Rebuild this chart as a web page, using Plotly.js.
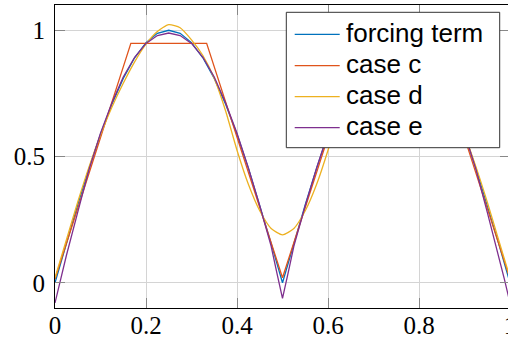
<!DOCTYPE html>
<html>
<head>
<meta charset="utf-8">
<script src="https://cdn.plot.ly/plotly-3.0.1.min.js"></script>
<style>
html,body{margin:0;padding:0;overflow:hidden;background:#fff;}
#chart{width:511px;height:342px;}
</style>
</head>
<body>
<div id="chart"></div>
<script>
// ---- data ----
var seriesNames = ["forcing term", "case c", "case d", "case e"];

var forcingX = [0,0.025,0.05,0.075,0.1,0.125,0.15,0.175,0.2,0.225,0.25,0.275,0.3,0.325,0.35,0.375,0.4,0.425,0.45,0.475,0.5,
                0.525,0.55,0.575,0.6,0.625,0.65,0.675,0.7,0.725,0.75,0.775,0.8,0.825,0.85,0.875,0.9,0.925,0.95,0.975,1];
var forcingY = [0,0.156,0.309,0.454,0.588,0.707,0.809,0.891,0.951,0.988,1.0,0.988,0.951,0.891,0.809,0.707,0.588,0.454,0.309,0.156,0.0,
                0.156,0.309,0.454,0.588,0.707,0.809,0.891,0.951,0.988,1.0,0.988,0.951,0.891,0.809,0.707,0.588,0.454,0.309,0.156,0.0];

var caseCX = [0,0.1667,0.3333,0.5,0.6667,0.8333,1];
var caseCY = [0.015,0.948,0.948,0.02,0.948,0.948,0.015];

var caseDX = forcingX;
var caseDY = [0.02,0.17,0.32,0.46,0.585,0.695,0.79,0.875,0.945,0.995,1.022,1.01,0.962,0.9,0.81,0.68,0.525,0.39,0.285,0.215,0.19,
              0.215,0.285,0.39,0.525,0.68,0.81,0.9,0.962,1.01,1.022,0.995,0.945,0.875,0.79,0.695,0.585,0.46,0.32,0.17,0.02];

var caseEX = [0,0.0125,0.025,0.05,0.075,0.1,0.125,0.15,0.175,0.2,0.225,0.25,0.275,0.3,0.325,0.35,0.375,0.4,0.425,0.45,0.475,0.4875,0.5,
              0.5125,0.525,0.55,0.575,0.6,0.625,0.65,0.675,0.7,0.725,0.75,0.775,0.8,0.825,0.85,0.875,0.9,0.925,0.95,0.975,0.9875,1];
var caseEY = [-0.08,0.015,0.108,0.28,0.45,0.592,0.712,0.815,0.893,0.948,0.979,0.989,0.979,0.948,0.893,0.815,0.712,0.592,0.455,0.305,0.145,0.04,-0.062,
              0.04,0.145,0.305,0.455,0.592,0.712,0.815,0.893,0.948,0.979,0.989,0.979,0.948,0.893,0.815,0.712,0.592,0.45,0.28,0.108,0.015,-0.08];

var xTicks = [0,0.2,0.4,0.6,0.8,1];
var xTickText = ["0","0.2","0.4","0.6","0.8","1"];
var yTicks = [0,0.5,1];
var yTickText = ["0","0.5","1"];

var colors = ["#0072BD","#E0531B","#EDB120","#7E2F8E"];

// ---- traces ----
var traces = [
  {x: forcingX, y: forcingY, name: seriesNames[0], mode: "lines", line: {color: colors[0], width: 1.3}},
  {x: caseCX, y: caseCY, name: seriesNames[1], mode: "lines", line: {color: colors[1], width: 1.3}},
  {x: caseDX, y: caseDY, name: seriesNames[2], mode: "lines", line: {color: colors[2], width: 1.3, shape: "spline", smoothing: 0.6}},
  {x: caseEX, y: caseEY, name: seriesNames[3], mode: "lines", line: {color: colors[3], width: 1.3}}
];

// ---- legend box drawn in paper coordinates (plot area: 55..510 px, 5..308 px) ----
var L = 55, W = 455, T = 5, H = 303;
function px(p) { return (p - L) / W; }
function py(p) { return (T + H - p) / H; }
var legRows = [34.3, 65.7, 96.7, 127.7];
var shapes = [{
  type: "rect", xref: "paper", yref: "paper",
  x0: px(286.3), x1: px(499.7), y0: py(147.7), y1: py(12.3),
  fillcolor: "#fff", line: {color: "#333", width: 1}, layer: "above"
}];
var annotations = [];
for (var i = 0; i < seriesNames.length; i++) {
  shapes.push({
    type: "line", xref: "paper", yref: "paper",
    x0: px(294.7), x1: px(339.7), y0: py(legRows[i]), y1: py(legRows[i]),
    line: {color: colors[i], width: 1.2}, layer: "above"
  });
  annotations.push({
    xref: "paper", yref: "paper", x: px(344), y: py(legRows[i] - 1.5),
    xanchor: "left", yanchor: "middle", showarrow: false,
    text: seriesNames[i],
    font: {family: "Liberation Sans, Arial, sans-serif", size: 26, color: "#000"}
  });
}

var axisCommon = {
  showline: true, linecolor: "#000", linewidth: 1, mirror: "ticks",
  ticks: "inside", ticklen: 10, tickwidth: 1, tickcolor: "#888",
  showgrid: true, gridcolor: "#d4d4d4", gridwidth: 1,
  zeroline: false, ticklabeloverflow: "allow",
  tickfont: {family: "Liberation Serif, Times New Roman, serif", size: 25, color: "#000"}
};

var layout = {
  width: 511, height: 342,
  margin: {l: 55, r: 1, t: 5, b: 34, pad: 0},
  paper_bgcolor: "#fff", plot_bgcolor: "#fff",
  showlegend: false,
  xaxis: Object.assign({}, axisCommon, {range: [0, 1], tickvals: xTicks, ticktext: xTickText, ticklabelstandoff: -5}),
  yaxis: Object.assign({}, axisCommon, {range: [-0.1, 1.1], tickvals: yTicks, ticktext: yTickText, ticklabelstandoff: 4}),
  shapes: shapes,
  annotations: annotations
};

Plotly.newPlot("chart", traces, layout, {staticPlot: true, displayModeBar: false});
</script>
</body>
</html>
